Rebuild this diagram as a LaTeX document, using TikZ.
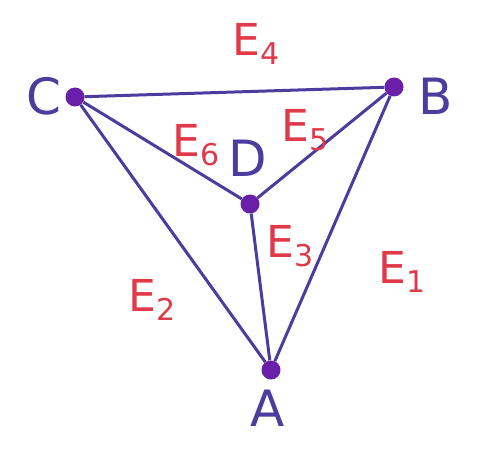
\documentclass[tikz,border=0pt]{standalone}
\usepackage{fontspec}
\setmainfont{DejaVu Sans}
\definecolor{ink}{HTML}{4B3C9E}
\definecolor{dot}{HTML}{6A1FA8}
\definecolor{lab}{HTML}{E0394A}
\newcommand{\elab}[1]{E\raisebox{-0.35ex}{\fontsize{30}{30}\selectfont #1}}
\begin{document}
\begin{tikzpicture}[x=1pt,y=-1pt,
  vtx/.style={circle,fill=dot,inner sep=0pt,minimum size=19pt},
  edge/.style={draw=ink,line width=3pt},
  vname/.style={text=ink,font=\fontsize{50}{50}\selectfont},
  ename/.style={text=lab,font=\fontsize{44}{44}\selectfont}]
\useasboundingbox[fill=white] (0,0) rectangle (481,462);
\node[vtx] (C) at (75,97) {};
\node[vtx] (B) at (394,87) {};
\node[vtx] (D) at (250,204) {};
\node[vtx] (A) at (271,370) {};
\draw[edge] (C) -- (B);
\draw[edge] (C) -- (D);
\draw[edge] (B) -- (D);
\draw[edge] (D) -- (A);
\draw[edge] (C) -- (A);
\draw[edge] (B) -- (A);
\node[vname] (lC) at (44,96) {C};
\node[vname] (lB) at (436,96) {B};
\node[vname] (lA) at (268,408) {A};
\node[vname] (lD) at (248,158) {D};
\node[ename] (e4) at (256,44) {\elab{4}};
\node[ename] (e6) at (196,145) {\elab{6}};
\node[ename] (e5) at (305,130) {\elab{5}};
\node[ename] (e3) at (290,246) {\elab{3}};
\node[ename] (e1) at (402,272) {\elab{1}};
\node[ename] (e2) at (152,300) {\elab{2}};
\end{tikzpicture}
\end{document}
